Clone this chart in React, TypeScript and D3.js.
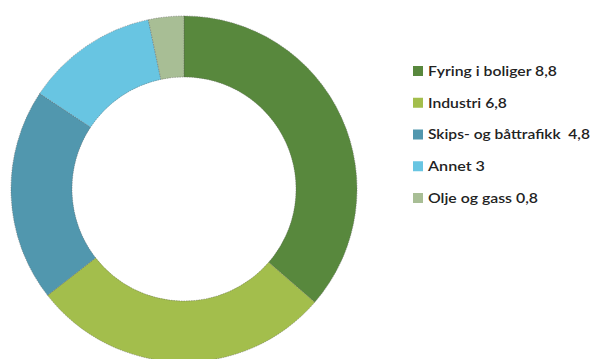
import React from "react";
import * as d3 from "d3";

const categories = ["Fyring i boliger", "Industri", "Skips- og båttrafikk ", "Annet", "Olje og gass"];
const values = [8.8, 6.8, 4.8, 3, 0.8];
const valueLabels = ["8,8", "6,8", "4,8", "3", "0,8"];
const colors = ["#58883d", "#a3be4c", "#5197ae", "#68c5e2", "#a8be95"];

const legendTextWidths = [129, 79, 162, 57, 110];

export default function App() {
  const W = 592, H = 359;
  const cx = 184, cy = 189, R = 173, r = 112;
  const pie = d3.pie<number>().sort(null).value((d) => d)(values);
  const arc = d3.arc<d3.PieArcDatum<number>>().innerRadius(r).outerRadius(R);
  const legendY = d3.scalePoint<number>().domain(d3.range(categories.length)).range([71, 198]);
  return (
    <svg width={W} height={H} style={{ position: "absolute", left: 0, top: 0, background: "#fff" }}>
      <g transform={`translate(${cx},${cy})`}>
        {pie.map((p, i) => (
          <path key={i} d={arc(p) || ""} fill={colors[i]} stroke="#5a5a5a" strokeWidth={0.6} strokeDasharray="1.5,1" strokeOpacity={0.7} />
        ))}
      </g>
      <g fontFamily="Lato, 'Open Sans', sans-serif" fontSize={14} fontWeight={600} fill="#222">
        {categories.map((c, i) => (
          <g key={i} transform={`translate(413,${legendY(i)})`}>
            <rect x={0} y={-5} width={10} height={10} fill={colors[i]} />
            <text x={15} y={0} dy="0.35em" textLength={legendTextWidths[i]} lengthAdjust="spacingAndGlyphs" style={{ whiteSpace: "pre" }}>{`${c} ${valueLabels[i]}`}</text>
          </g>
        ))}
      </g>
    </svg>
  );
}
